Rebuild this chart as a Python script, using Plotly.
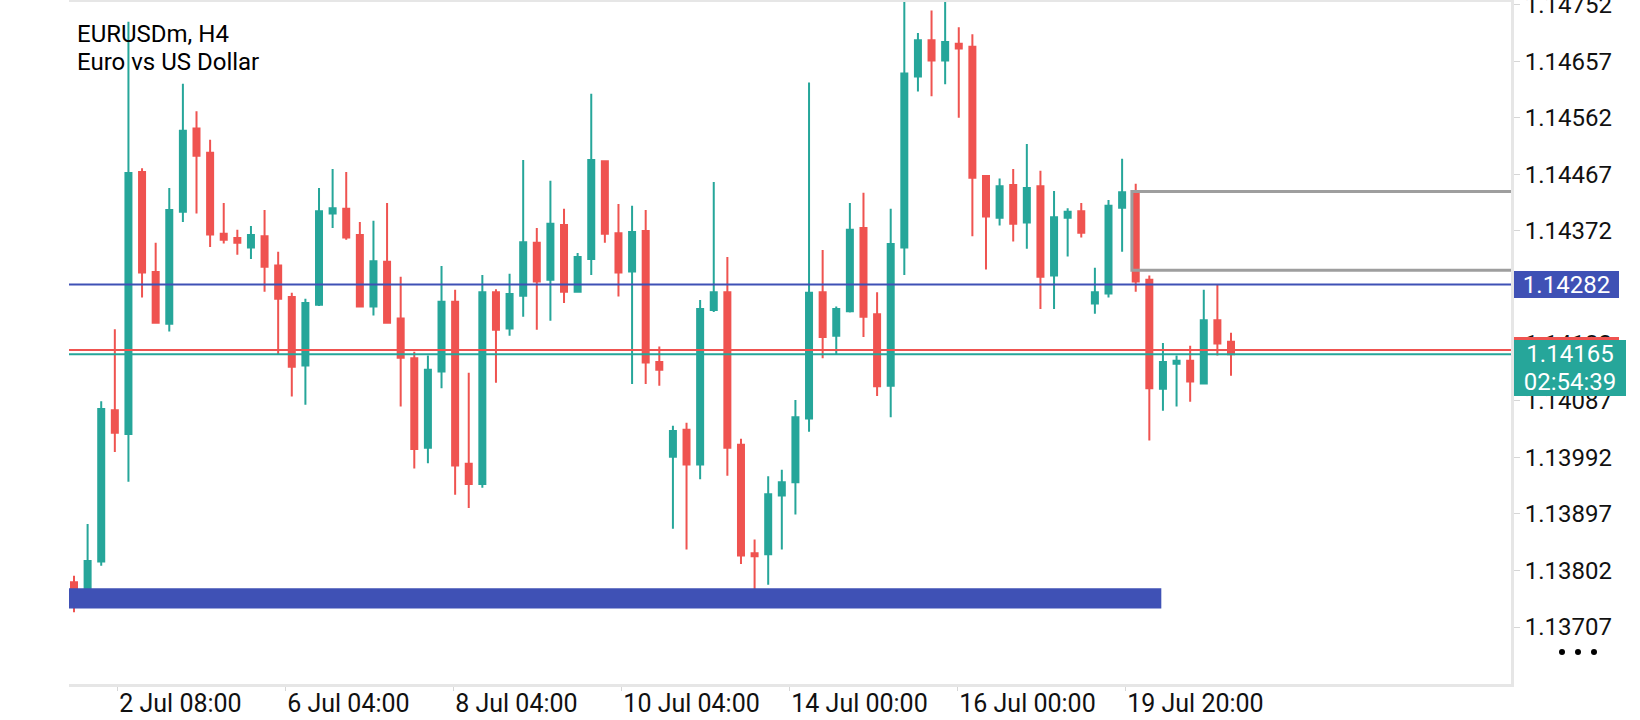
import plotly.graph_objects as go

# ---------------- data (EURUSDm, H4) ----------------
candle_index = list(range(86))

open_ = [1.13782, 1.13769, 1.13817, 1.14071, 1.14031, 1.14471, 1.14303, 1.14216, 1.14404, 1.14544,
         1.14503, 1.14367, 1.14360, 1.14344, 1.14363, 1.14314, 1.14261, 1.14146, 1.14248, 1.14401,
         1.14409, 1.14365, 1.14245, 1.14320, 1.14225, 1.14158, 1.14008, 1.14136, 1.14253, 1.13981,
         1.13947, 1.14269, 1.14208, 1.14263, 1.14352, 1.14290, 1.14382, 1.14270, 1.14325, 1.14489,
         1.14368, 1.14304, 1.14372, 1.14152, 1.13993, 1.14038, 1.13980, 1.14239, 1.14269, 1.14013,
         1.13831, 1.13829, 1.13928, 1.13950, 1.14057, 1.14269, 1.14196, 1.14237, 1.14377, 1.14232,
         1.14112, 1.14344, 1.14631, 1.14692, 1.14658, 1.14686, 1.14681, 1.14464, 1.14394, 1.14449,
         1.14386, 1.14447, 1.14297, 1.14394, 1.14405, 1.14250, 1.14267, 1.14411, 1.14439, 1.14290,
         1.14107, 1.14149, 1.14154, 1.14116, 1.14222, 1.14186]
high = [1.13793, 1.13880, 1.14086, 1.14207, 1.14723, 1.14477, 1.14352, 1.14444, 1.14619, 1.14573,
        1.14525, 1.14419, 1.14374, 1.14380, 1.14407, 1.14337, 1.14268, 1.14258, 1.14444, 1.14476,
        1.14471, 1.14387, 1.14389, 1.14419, 1.14295, 1.14169, 1.14163, 1.14313, 1.14273, 1.14134,
        1.14298, 1.14274, 1.14300, 1.14491, 1.14377, 1.14456, 1.14409, 1.14335, 1.14602, 1.14490,
        1.14417, 1.14414, 1.14407, 1.14178, 1.14045, 1.14050, 1.14256, 1.14454, 1.14328, 1.14023,
        1.13854, 1.13960, 1.13971, 1.14088, 1.14621, 1.14340, 1.14245, 1.14419, 1.14436, 1.14269,
        1.14409, 1.14760, 1.14704, 1.14742, 1.14760, 1.14714, 1.14702, 1.14466, 1.14460, 1.14476,
        1.14518, 1.14473, 1.14439, 1.14410, 1.14419, 1.14310, 1.14424, 1.14493, 1.14451, 1.14297,
        1.14184, 1.14163, 1.14179, 1.14273, 1.14283, 1.14201]
low = [1.13732, 1.13761, 1.13810, 1.14001, 1.13951, 1.14260, 1.14217, 1.14203, 1.14387, 1.14401,
       1.14345, 1.14351, 1.14332, 1.14325, 1.14270, 1.14164, 1.14094, 1.14080, 1.14246, 1.14377,
       1.14357, 1.14244, 1.14230, 1.14216, 1.14077, 1.13973, 1.13982, 1.14108, 1.13929, 1.13907,
       1.13941, 1.14117, 1.14196, 1.14228, 1.14206, 1.14221, 1.14251, 1.14269, 1.14298, 1.14352,
       1.14262, 1.14115, 1.14115, 1.14112, 1.13872, 1.13837, 1.13955, 1.14236, 1.13961, 1.13813,
       1.13769, 1.13778, 1.13837, 1.13896, 1.14035, 1.14158, 1.14165, 1.14235, 1.14194, 1.14095,
       1.14059, 1.14298, 1.14606, 1.14598, 1.14618, 1.14562, 1.14363, 1.14307, 1.14381, 1.14354,
       1.14342, 1.14241, 1.14241, 1.14329, 1.14361, 1.14233, 1.14260, 1.14337, 1.14270, 1.14020,
       1.14070, 1.14077, 1.14085, 1.14116, 1.14163, 1.14129]
close = [1.13769, 1.13818, 1.14073, 1.14033, 1.14469, 1.14302, 1.14218, 1.14407, 1.14540, 1.14498,
         1.14366, 1.14357, 1.14352, 1.14365, 1.14312, 1.14258, 1.14144, 1.14251, 1.14405, 1.14410,
         1.14361, 1.14245, 1.14321, 1.14218, 1.14159, 1.14006, 1.14139, 1.14253, 1.13978, 1.13947,
         1.14269, 1.14206, 1.14266, 1.14353, 1.14287, 1.14384, 1.14270, 1.14328, 1.14491, 1.14367,
         1.14302, 1.14370, 1.14151, 1.14139, 1.14036, 1.13980, 1.14241, 1.14269, 1.14008, 1.13827,
         1.13826, 1.13930, 1.13950, 1.14059, 1.14268, 1.14194, 1.14241, 1.14374, 1.14228, 1.14111,
         1.14350, 1.14636, 1.14692, 1.14658, 1.14689, 1.14678, 1.14461, 1.14396, 1.14447, 1.14384,
         1.14444, 1.14295, 1.14395, 1.14404, 1.14369, 1.14269, 1.14414, 1.14437, 1.14287, 1.14108,
         1.14152, 1.14154, 1.14119, 1.14222, 1.14183, 1.14165]

x_tick_pos = [3.18, 15.52, 27.86, 40.21, 52.55, 64.89, 77.23]
x_tick_text = ["2 Jul 08:00", "6 Jul 04:00", "8 Jul 04:00", "10 Jul 04:00",
               "14 Jul 00:00", "16 Jul 00:00", "19 Jul 20:00"]
y_tick_vals = [1.13707, 1.13802, 1.13897, 1.13992, 1.14087, 1.14182,
               1.14277, 1.14372, 1.14467, 1.14562, 1.14657, 1.14752]

symbol_title = "EURUSDm, H4"
symbol_desc = "Euro vs US Dollar"
bid_price = 1.14165
ask_price = 1.14172
level_price = 1.14282
countdown = "02:54:39"
box_top, box_bottom, box_start = 1.14438, 1.14306, 77.72
zone_top, zone_bottom, zone_end = 1.13772, 1.13738, 79.88

# ---------------- styling ----------------
GREEN = "#26a69a"
RED = "#ef5350"
BLUE = "#3f51b5"
FRAME = "#e6e6e6"
TXT = "#111111"
FONT = "Roboto"

fig = go.Figure()
fig.add_trace(go.Candlestick(
    x=candle_index, open=open_, high=high, low=low, close=close,
    increasing=dict(line=dict(color=GREEN, width=2), fillcolor=GREEN),
    decreasing=dict(line=dict(color=RED, width=2), fillcolor=RED),
    whiskerwidth=0, hoverinfo="skip", showlegend=False,
))

shapes = []
# support zone (blue bar)
shapes.append(dict(type="rect", xref="x", yref="y", x0=-5, x1=zone_end,
                   y0=zone_bottom, y1=zone_top, fillcolor=BLUE,
                   line=dict(width=0), layer="above"))
# grey rectangle
shapes.append(dict(type="rect", xref="x", yref="y", x0=box_start, x1=200,
                   y0=box_bottom, y1=box_top, fillcolor="rgba(0,0,0,0)",
                   line=dict(color="#9e9e9e", width=3), layer="above"))
# horizontal price lines
for price, col in [(level_price, BLUE), (ask_price, RED), (bid_price, GREEN)]:
    shapes.append(dict(type="line", xref="paper", yref="y", x0=0, x1=1,
                       y0=price, y1=price, line=dict(color=col, width=2),
                       layer="above"))
# three dots (menu) bottom right
PW, PH = 1442.0, 682.0
for cx in [1562, 1578, 1594]:
    px = (cx - 69) / PW
    py = (684 - 652) / PH
    shapes.append(dict(type="circle", xref="paper", yref="paper",
                       x0=px - 3 / PW, x1=px + 3 / PW, y0=py - 3 / PH, y1=py + 3 / PH,
                       fillcolor="#000000", line=dict(width=0)))

lab_x = (1514 - 69) / PW
annotations = [
    dict(text=symbol_title, xref="paper", yref="paper", x=(76.7 - 69) / PW,
         y=(684 - 20) / PH, xanchor="left", yanchor="top", showarrow=False,
         font=dict(family=FONT, size=24, color="#000000"), borderpad=0, borderwidth=0),
    dict(text=symbol_desc, xref="paper", yref="paper", x=(76.7 - 69) / PW,
         y=(684 - 47.7) / PH, xanchor="left", yanchor="top", showarrow=False,
         font=dict(family=FONT, size=24, color="#000000"), borderpad=0, borderwidth=0),
    dict(text=f"{level_price:.5f}", xref="paper", yref="y", x=lab_x, y=level_price,
         xanchor="left", yanchor="middle", showarrow=False, bgcolor=BLUE,
         width=105, height=27, borderpad=0, borderwidth=0,
         font=dict(family=FONT, size=24, color="#ffffff")),
    dict(text=f"{ask_price:.5f}", xref="paper", yref="y", x=lab_x, y=ask_price,
         xanchor="left", yanchor="middle", showarrow=False, bgcolor=RED,
         width=105, height=27, borderpad=0, borderwidth=0,
         font=dict(family=FONT, size=24, color="#ffffff")),
    dict(text=f"{bid_price:.5f}", xref="paper", yref="y", x=lab_x, y=bid_price,
         xanchor="left", yanchor="middle", showarrow=False, bgcolor=GREEN,
         width=112, height=28, borderpad=0, borderwidth=0,
         font=dict(family=FONT, size=24, color="#ffffff")),
    dict(text=countdown, xref="paper", yref="y", x=lab_x, y=bid_price, yshift=-27.5,
         xanchor="left", yanchor="middle", showarrow=False, bgcolor=GREEN,
         width=112, height=28, borderpad=0, borderwidth=0,
         font=dict(family=FONT, size=24, color="#ffffff")),
]

fig.update_layout(
    width=1640, height=720,
    margin=dict(l=69, r=129, t=2, b=36, pad=0, autoexpand=False),
    paper_bgcolor="#ffffff", plot_bgcolor="#ffffff",
    showlegend=False, boxgap=0.37,
    shapes=shapes, annotations=annotations,
    font=dict(family=FONT, color=TXT),
    xaxis=dict(
        type="linear", range=[-0.367, 105.57], rangeslider=dict(visible=False),
        showgrid=False, zeroline=False, automargin=False,
        showline=True, linecolor=FRAME, linewidth=3, mirror=True,
        tickmode="array", tickvals=x_tick_pos, ticktext=x_tick_text,
        ticks="outside", ticklen=4, tickcolor="#d6d6d6", tickwidth=1,
        ticklabelposition="outside right", ticklabelstandoff=-5,
        tickfont=dict(family=FONT, size=25, color=TXT),
        fixedrange=True,
    ),
    yaxis=dict(
        side="right", range=[1.136114, 1.147562], automargin=False,
        showgrid=False, zeroline=False,
        showline=True, linecolor=FRAME, linewidth=3,
        tickmode="array", tickvals=y_tick_vals, tickformat=".5f",
        ticks="outside", ticklen=6, tickcolor="#d6d6d6", tickwidth=1,
        ticklabeloverflow="allow",
        tickfont=dict(family=FONT, size=24, color=TXT),
        fixedrange=True,
    ),
)

fig.write_html("out.html", config={"displayModeBar": False},
               post_script="document.body.style.margin='0';document.body.style.overflow='hidden';")
